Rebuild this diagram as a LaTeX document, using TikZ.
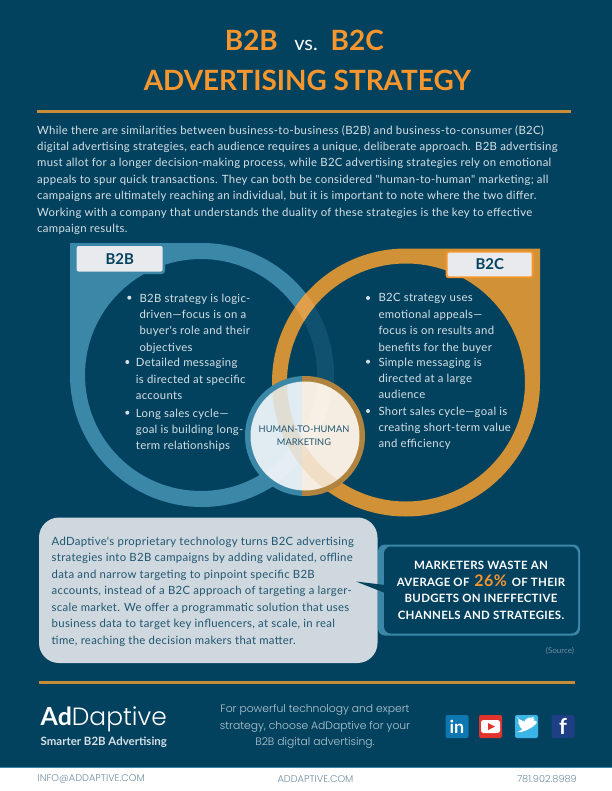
\documentclass[tikz,border=0pt]{standalone}
\usepackage{fontspec}
\setmainfont{Lato}
\newfontfamily\lightf{Poppins}[UprightFont=* Light]
\newfontfamily\spaced{Lato}[LetterSpace=2.7]
\newfontfamily\statf{Lato}[LetterSpace=2.6,BoldFont=* Bold]
\definecolor{navy}{HTML}{03425F}
\definecolor{ringblue}{HTML}{3B87A8}
\definecolor{ringorange}{HTML}{D19136}
\definecolor{lightorange}{HTML}{E09F4A}
\definecolor{ringbrown}{HTML}{B0833F}
\definecolor{titleorange}{HTML}{F7962D}
\definecolor{rulecol}{HTML}{C98D37}
\definecolor{bodytxt}{HTML}{D5E0E6}
\definecolor{ctatxt}{HTML}{B4C8D2}
\definecolor{labelbg}{HTML}{E8EAEE}
\definecolor{greybox}{HTML}{CFD8DE}
\definecolor{footgrey}{HTML}{6F8E9E}
\definecolor{hubleft}{HTML}{E1EBF2}
\definecolor{hubright}{HTML}{F5EDE2}
\definecolor{boxtxt}{HTML}{1F5570}
\definecolor{iconli}{HTML}{0E76B0}
\definecolor{iconyt}{HTML}{E2322C}
\definecolor{icontw}{HTML}{3BB5E6}
\definecolor{iconfb}{HTML}{1F3F85}
\tikzset{
 titletxt/.style={inner sep=0,text=titleorange,font=\bfseries\fontsize{28}{30}\selectfont},
 bodyblock/.style={inner sep=0,anchor=north west,align=left,text=bodytxt,font=\spaced\fontsize{11.4}{16.55}\selectfont},
 listblock/.style={inner sep=0,anchor=north west,align=left,text=bodytxt,font=\spaced\fontsize{11.4}{16.5}\selectfont},
 blt/.style={circle,fill=bodytxt,inner sep=0,minimum size=4bp},
 lab/.style={rounded corners=2pt,fill=labelbg,text=navy,font=\bfseries\fontsize{15}{15}\selectfont,inner sep=0,minimum width=86bp,minimum height=25.5bp},
 rulebar/.style={rulecol,line width=2.6pt},
 foot/.style={inner sep=0,text=footgrey,font=\lightf\fontsize{9.8}{10}\selectfont},
 iconbox/.style={rounded corners=2pt,minimum width=23bp,minimum height=23bp,inner sep=0}
}
\begin{document}
\begin{tikzpicture}[x=1bp,y=-1bp]
\useasboundingbox (0,0) rectangle (612,791);
\fill[navy] (0,0) rectangle (612,791);
\fill[white] (0,767) rectangle (612,791);
\draw[ringblue,line width=.6pt] (0,767) -- (612,767);
% titles
\node[titletxt,anchor=base east] (t1) at (278,51) {B2B};
\node[inner sep=0,anchor=base,text=white,font=\fontsize{20}{24}\selectfont] (tvs) at (306,50.5) {vs.};
\node[titletxt,anchor=base west] (t2) at (330.5,51) {B2C};
\node[titletxt,anchor=base] (t3) at (307.5,90) {ADVERTISING STRATEGY};
\draw[rulebar] (37,111.3) -- (571,111.3);
\node[bodyblock] (intro) at (37,125) {While there are similarities between business-to-business (B2B) and business-to-consumer (B2C)\\
digital advertising strategies, each audience requires a unique, deliberate approach. B2B advertising\\
must allot for a longer decision-making process, while B2C advertising strategies rely on emotional\\
appeals to spur quick transactions. They can both be considered "human-to-human" marketing; all\\
campaigns are ultimately reaching an individual, but it is important to note where the two differ.\\
Working with a company that understands the duality of these strategies is the key to effective\\
campaign results.};
% rings
\fill[ringblue,even odd rule] (202,243) arc[start angle=-90,delta angle=270,radius=132] -- (70,243) -- cycle
  (201,375) circle[radius=116];
\fill[navy,opacity=.78] (406,382.5) circle[radius=119];
\fill[ringorange,even odd rule] (540,248.5) -- (540,382.5) arc[start angle=0,delta angle=270,radius=134] -- cycle
  (406,382.5) circle[radius=119];
\begin{scope}[even odd rule]
 \clip (202,375) circle[radius=132] (201,375) circle[radius=116];
 \fill[lightorange] (406,382.5) circle[radius=134] (406,382.5) circle[radius=119];
\end{scope}
% centre circle
\begin{scope}
 \clip (305,436) circle[radius=60];
 \fill[ringblue] (240,370) rectangle (302,500);
 \fill[ringbrown] (302,370) rectangle (370,500);
\end{scope}
\begin{scope}
 \clip (305,436) circle[radius=54.5];
 \fill[hubleft] (240,370) rectangle (302,500);
 \fill[hubright] (302,370) rectangle (370,500);
 \draw[white,opacity=.18,line width=15bp] (201,375) circle[radius=124];
 \draw[lightorange,opacity=.18,line width=15bp] (406,382.5) circle[radius=126.5];
\end{scope}
\node[inner sep=0,align=center,text=boxtxt,font=\fontsize{9.3}{13.4}\selectfont] (hub) at (304,436) {HUMAN-TO-HUMAN\\MARKETING};
% labels
\fill[ringblue,rounded corners=3pt] (70,243) rectangle (165,274);
\node[lab] (lb2b) at (119.7,258.8) {B2B};
\node[lab,draw=titleorange,line width=2pt] (lb2c) at (489.7,264.5) {B2C};
% lists
\node[blt] (ba) at (129.3,297.7) {};
\node[listblock] (bat) at (139.3,293.5) {B2B strategy is logic-\\driven—focus is on a\\buyer's role and their\\objectives};
\node[blt] (bb) at (127.3,362) {};
\node[listblock] (bbt) at (135.7,358) {Detailed messaging\\is directed at specific\\accounts};
\node[blt] (bc) at (127.3,412.7) {};
\node[listblock] (bct) at (135.7,408.5) {Long sales cycle—\\goal is building long-\\term relationships};
\node[blt] (ca) at (368,298) {};
\node[listblock] (cat) at (378.3,293.5) {B2C strategy uses\\emotional appeals—\\focus is on results and\\benefits for the buyer};
\node[blt] (cb) at (368,361.7) {};
\node[listblock] (cbt) at (378.3,357.5) {Simple messaging is\\directed at a large\\audience};
\node[blt] (cc) at (368,411) {};
\node[listblock] (cct) at (378.3,406.5) {Short sales cycle—goal is\\creating short-term value\\and efficiency};
% bottom boxes
\fill[greybox,rounded corners=20bp] (39,517.5) rectangle (377.5,663);
\node[bodyblock,text=boxtxt] (ad) at (51.5,536.5) {AdDaptive's proprietary technology turns B2C advertising\\
strategies into B2B campaigns by adding validated, offline\\
data and narrow targeting to pinpoint specific B2B\\
accounts, instead of a B2C approach of targeting a larger-\\
scale market. We offer a programmatic solution that uses\\
business data to target key influencers, at scale, in real\\
time, reaching the decision makers that matter.};
\fill[ringblue,rounded corners=7bp] (378,544.5) rectangle (580,635.5);
\fill[navy,rounded corners=7bp] (384,546.5) rectangle (578,633.5);
\fill[navy] (356,581.5) -- (385,585) -- (385,593) -- cycle;
\node[inner sep=0,align=center,text=white,font=\statf\bfseries\fontsize{11.5}{16.6}\selectfont] (stat) at (481,590.5) {MARKETERS WASTE AN\\AVERAGE OF \,{\color{titleorange}\fontsize{16}{16.6}\selectfont 26\%}\, OF THEIR\\BUDGETS ON INEFFECTIVE\\CHANNELS AND STRATEGIES.};
\node[inner sep=0,text=footgrey,font=\fontsize{8}{9}\selectfont] (src) at (560,651) {(Source)};
% footer
\draw[rulebar] (39,682.3) -- (575,682.3);
\node[inner sep=0,anchor=base west,text=white,font=\fontsize{25}{27}\selectfont] (logo) at (40.5,725) {\textbf{Ad}{\lightf Daptive}};
\node[inner sep=0,anchor=base west,text=bodytxt,font=\bfseries\fontsize{11.5}{13}\selectfont] (tag) at (40.5,745.5) {Smarter B2B Advertising};
\node[inner sep=0,align=center,text=ctatxt,font=\lightf\fontsize{10.8}{16.6}\selectfont] (cta) at (315,726.5) {For powerful technology and expert\\strategy, choose AdDaptive for your\\B2B digital advertising.};
\node[iconbox,fill=iconli,text=white,font=\bfseries\fontsize{18}{18}\selectfont] (li) at (457,726.5) {in};
\node[iconbox,fill=iconyt] (yt) at (490.5,726.5) {};
\fill[white,rounded corners=2.5bp] (yt.center) ++(-9.5,-6.5) rectangle ++(19,13);
\fill[iconyt] (yt.center) ++(-2.5,-3.5) -- ++(7,3.5) -- ++(-7,3.5) -- cycle;
\node[iconbox,fill=icontw] (tw) at (526.5,726.5) {};
\fill[white] (tw.center) ++(-9,5.5) .. controls +(5,2.5) and +(13,0) .. ++(15.5,-11.5) -- ++(2,-2) -- ++(-2.5,.4) -- ++(1.6,-2.2) -- ++(-2.6,1) .. controls +(-3,-2) and +(-5.5,.5) .. ++(-5,4.3) .. controls +(-3,0) and +(-6,-2) .. ++(-8,-4.2) .. controls +(-1,2) and +(0,4) .. ++(1.5,5) -- ++(-1.8,-.4) .. controls +(0,2) and +(1,3) .. ++(3,4) -- ++(-1.6,0) .. controls +(.5,1.4) and +(2,2.3) .. ++(3.5,2.5) .. controls +(-1.5,1.2) and +(-3.5,1.6) .. cycle;
\node[iconbox,fill=iconfb,text=white,font=\bfseries\fontsize{22}{22}\selectfont] (fb) at (563,726.5) {f};
\node[foot,anchor=west] (mail) at (37.5,779) {INFO@ADDAPTIVE.COM};
\node[foot,anchor=center] (web) at (315.5,779) {ADDAPTIVE.COM};
\node[foot,anchor=east] (tel) at (577,779) {781.902.8989};
\end{tikzpicture}
\end{document}
